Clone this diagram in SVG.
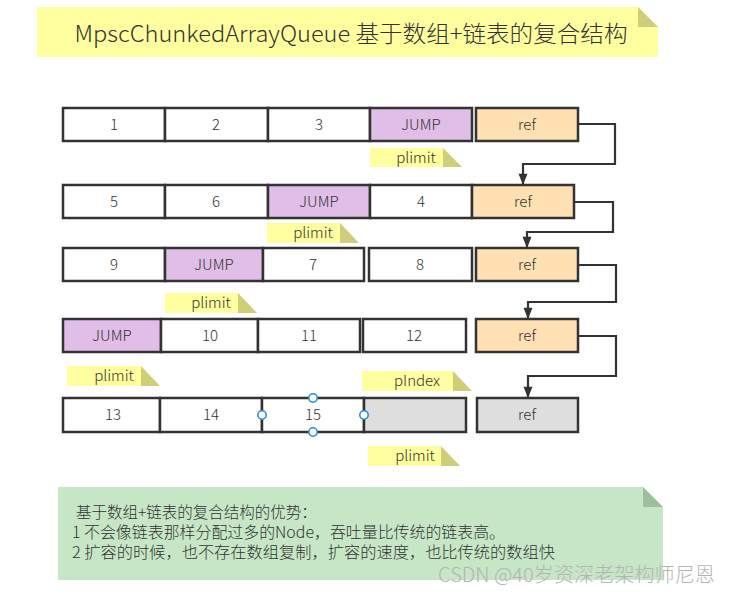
<svg xmlns="http://www.w3.org/2000/svg" width="730" height="593" viewBox="0 0 730 593">
<defs>
<style>
.cell{stroke:#333;stroke-width:2.5}
.w{fill:#fff}.p{fill:#e1bee7}.o{fill:#ffe0b2}.g{fill:#dedede}
.t{font-family:"Noto Sans CJK SC","Noto Sans",sans-serif;font-weight:300;font-size:15px;fill:#333;text-anchor:middle}
.ly{fill:#ffff9f}.lf{fill:#cfcf7a}
.conn{fill:none;stroke:#333;stroke-width:2.2}
.h{fill:#fff;stroke:#1e88e5;stroke-width:1.5}
.note{font-family:"Noto Sans CJK SC","Noto Sans",sans-serif;font-weight:300;font-size:15.5px;fill:#333}
</style>
<marker id="arr" viewBox="0 0 12 16" refX="15" refY="6" markerWidth="16" markerHeight="12" markerUnits="userSpaceOnUse" orient="auto">
<path d="M0,0 L15,6 L0,12 z" fill="#333"/>
</marker>
</defs>
<rect width="730" height="593" fill="#fff"/>

<g id="title">
<polygon points="37,7 638,7 658,27 658,57 37,57" fill="#ffff9f"/>
<polygon points="638,7 658,27 638,27" fill="#cfcf7a"/>
<text x="351" y="42" font-family="'Noto Sans CJK SC','Noto Sans',sans-serif" font-weight="300" font-size="22.5" fill="#333" text-anchor="middle" textLength="553" lengthAdjust="spacingAndGlyphs">MpscChunkedArrayQueue 基于数组+链表的复合结构</text>
</g>

<g id="row1">
<rect class="cell w" x="63" y="108" width="102" height="33"/><text class="t" x="114" y="130">1</text>
<rect class="cell w" x="165" y="108" width="103" height="33"/><text class="t" x="216" y="130">2</text>
<rect class="cell w" x="268" y="108" width="102" height="33"/><text class="t" x="319" y="130">3</text>
<rect class="cell p" x="370" y="108" width="102" height="33"/><text class="t" x="421" y="130">JUMP</text>
</g>
<g id="ref1"><rect class="cell o" x="476" y="108" width="102" height="33"/><text class="t" x="527" y="130">ref</text></g>

<g id="row2">
<rect class="cell w" x="63" y="185" width="102" height="33"/><text class="t" x="114" y="207">5</text>
<rect class="cell w" x="165" y="185" width="103" height="33"/><text class="t" x="216" y="207">6</text>
<rect class="cell p" x="268" y="185" width="102" height="33"/><text class="t" x="319" y="207">JUMP</text>
<rect class="cell w" x="370" y="185" width="102" height="33"/><text class="t" x="421" y="207">4</text>
</g>
<g id="ref2"><rect class="cell o" x="472" y="185" width="102" height="33"/><text class="t" x="523" y="207">ref</text></g>

<g id="row3">
<rect class="cell w" x="63" y="248" width="102" height="33"/><text class="t" x="114" y="270">9</text>
<rect class="cell p" x="165" y="248" width="98" height="33"/><text class="t" x="214" y="270">JUMP</text>
<rect class="cell w" x="263" y="248" width="101" height="33"/><text class="t" x="313" y="270">7</text>
<rect class="cell w" x="369" y="248" width="103" height="33"/><text class="t" x="420" y="270">8</text>
</g>
<g id="ref3"><rect class="cell o" x="476" y="248" width="102" height="33"/><text class="t" x="527" y="270">ref</text></g>

<g id="row4">
<rect class="cell p" x="63" y="319" width="98" height="33"/><text class="t" x="112" y="341">JUMP</text>
<rect class="cell w" x="161" y="319" width="97" height="33"/><text class="t" x="210" y="341">10</text>
<rect class="cell w" x="258" y="319" width="102" height="33"/><text class="t" x="309" y="341">11</text>
<rect class="cell w" x="363" y="319" width="103" height="33"/><text class="t" x="414" y="341">12</text>
</g>
<g id="ref4"><rect class="cell o" x="476" y="319" width="102" height="33"/><text class="t" x="527" y="341">ref</text></g>

<g id="row5">
<rect class="cell w" x="63" y="398" width="97" height="34"/><text class="t" x="113" y="420">13</text>
<rect class="cell w" x="160" y="398" width="102" height="34"/><text class="t" x="211" y="420">14</text>
<rect class="cell w" x="262" y="398" width="102" height="34"/><text class="t" x="313" y="420">15</text>
<rect class="cell g" x="364" y="398" width="102" height="34"/>
</g>
<g id="ref5"><rect class="cell g" x="477" y="398" width="101" height="34"/><text class="t" x="527" y="420">ref</text></g>

<g id="handles">
<circle class="h" cx="313" cy="398" r="4.2"/>
<circle class="h" cx="313" cy="432" r="4.2"/>
<circle class="h" cx="262" cy="415" r="4.2"/>
<circle class="h" cx="364" cy="415" r="4.2"/>
</g>

<g id="plimit1"><rect class="ly" x="370" y="148" width="73" height="19"/><polygon class="lf" points="443,148 462,167 443,167"/><text class="t" x="416" y="163">plimit</text></g>
<g id="plimit2"><rect class="ly" x="267" y="223" width="73" height="20"/><polygon class="lf" points="340,223 359,243 340,243"/><text class="t" x="313" y="238">plimit</text></g>
<g id="plimit3"><rect class="ly" x="165" y="293" width="73" height="20"/><polygon class="lf" points="238,293 257,313 238,313"/><text class="t" x="211" y="308">plimit</text></g>
<g id="plimit4"><rect class="ly" x="67" y="366" width="74" height="20"/><polygon class="lf" points="141,366 160,386 141,386"/><text class="t" x="114" y="381">plimit</text></g>
<g id="pIndex"><rect class="ly" x="362" y="371" width="91" height="20"/><polygon class="lf" points="453,371 472,391 453,391"/><text class="t" x="417" y="386">pIndex</text></g>
<g id="plimit5"><rect class="ly" x="368" y="446" width="73" height="20"/><polygon class="lf" points="441,446 460,466 441,466"/><text class="t" x="415" y="461">plimit</text></g>

<g id="connectors">
<path class="conn" d="M578,124 H615 V164 H523 V185" marker-end="url(#arr)"/>
<path class="conn" d="M574,202 H613 V232 H527 V248" marker-end="url(#arr)"/>
<path class="conn" d="M578,265 H616 V302 H528 V319" marker-end="url(#arr)"/>
<path class="conn" d="M578,336 H616 V376 H528 V398" marker-end="url(#arr)"/>
</g>

<g id="note">
<polygon points="58,487 643,487 663,507 663,580 58,580" fill="#c6e6c6"/>
<polygon points="643,487 663,507 643,507" fill="#9cc09c"/>
<text class="note" x="76" y="518">基于数组+链表的复合结构的优势：</text>
<text class="note" x="72" y="538" textLength="433" lengthAdjust="spacingAndGlyphs">1 不会像链表那样分配过多的Node，吞吐量比传统的链表高。</text>
<text class="note" x="72" y="558" textLength="483" lengthAdjust="spacingAndGlyphs">2 扩容的时候，也不存在数组复制，扩容的速度，也比传统的数组快</text>
</g>

<text x="438" y="582" font-family="'Noto Sans CJK SC','Noto Sans',sans-serif" font-weight="300" font-size="20" fill="#b4b4b4" textLength="277" lengthAdjust="spacingAndGlyphs">CSDN @40岁资深老架构师尼恩</text>
</svg>
